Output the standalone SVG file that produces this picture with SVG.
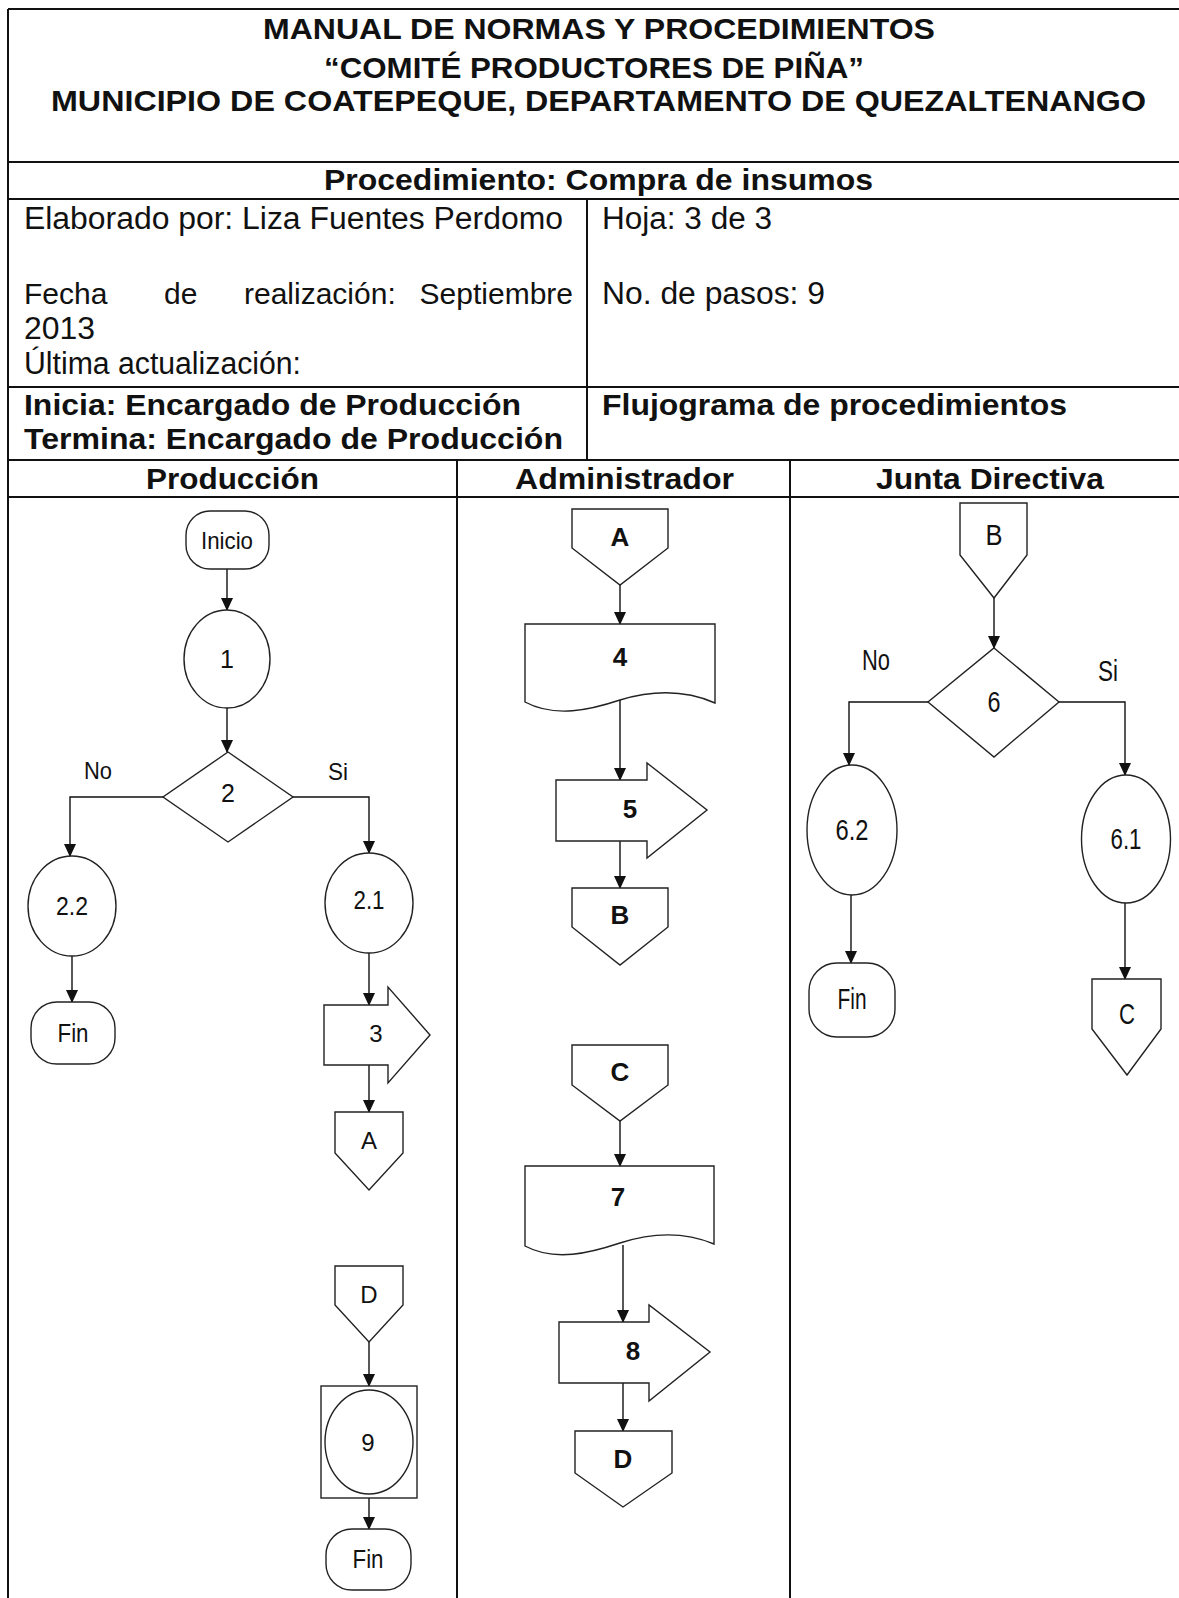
<svg xmlns="http://www.w3.org/2000/svg" width="1179" height="1598" viewBox="0 0 1179 1598">
<style>
.t{font-family:"Liberation Sans",Arial,sans-serif;fill:#111}
.b{font-weight:bold}
.tl{stroke:#111;stroke-width:2;fill:none}
.s{stroke:#222;stroke-width:1.4;fill:#fff}
.c{stroke:#111;stroke-width:1.4;fill:none;marker-end:url(#ah)}
.lb{font-family:"Liberation Sans",Arial,sans-serif;fill:#111;text-anchor:middle;dominant-baseline:central}
</style>
<defs>
<marker id="ah" markerWidth="13" markerHeight="12" refX="12" refY="6" orient="auto" markerUnits="userSpaceOnUse">
<path d="M0,0 L13,6 L0,12 Z" fill="#111"/>
</marker>
</defs>
<rect width="1179" height="1598" fill="#fff"/>

<g id="table">
<line class="tl" x1="8" y1="9" x2="1179" y2="9"/>
<line class="tl" x1="8" y1="9" x2="8" y2="1598"/>
<line class="tl" x1="8" y1="162" x2="1179" y2="162"/>
<line class="tl" x1="8" y1="199" x2="1179" y2="199"/>
<line class="tl" x1="8" y1="387" x2="1179" y2="387"/>
<line class="tl" x1="8" y1="460" x2="1179" y2="460"/>
<line class="tl" x1="8" y1="497" x2="1179" y2="497"/>
<line class="tl" x1="587" y1="199" x2="587" y2="460"/>
<line class="tl" x1="457" y1="460" x2="457" y2="1598"/>
<line class="tl" x1="790" y1="460" x2="790" y2="1598"/>

<text class="t b" x="263" y="39" font-size="30" textLength="672" lengthAdjust="spacingAndGlyphs">MANUAL DE NORMAS Y PROCEDIMIENTOS</text>
<text class="t b" x="324" y="78" font-size="30" textLength="540" lengthAdjust="spacingAndGlyphs">“COMITÉ PRODUCTORES DE PIÑA”</text>
<text class="t b" x="51" y="111" font-size="30" textLength="1095" lengthAdjust="spacingAndGlyphs">MUNICIPIO DE COATEPEQUE, DEPARTAMENTO DE QUEZALTENANGO</text>
<text class="t b" x="324" y="190" font-size="30" textLength="549" lengthAdjust="spacingAndGlyphs">Procedimiento: Compra de insumos</text>
<text class="t" x="24" y="229" font-size="31" textLength="539" lengthAdjust="spacingAndGlyphs">Elaborado por: Liza Fuentes Perdomo</text>
<text class="t" x="602" y="229" font-size="31" textLength="170" lengthAdjust="spacingAndGlyphs">Hoja: 3 de 3</text>
<text class="t" x="24" y="304" font-size="30">Fecha</text>
<text class="t" x="164" y="304" font-size="30">de</text>
<text class="t" x="244" y="304" font-size="30">realización:</text>
<text class="t" x="573" y="304" font-size="30" text-anchor="end">Septiembre</text>
<text class="t" x="602" y="304" font-size="31" textLength="223" lengthAdjust="spacingAndGlyphs">No. de pasos: 9</text>
<text class="t" x="24" y="339" font-size="31" textLength="71" lengthAdjust="spacingAndGlyphs">2013</text>
<text class="t" x="24" y="374" font-size="31" textLength="277" lengthAdjust="spacingAndGlyphs">Última actualización:</text>
<text class="t b" x="24" y="415" font-size="30" textLength="497" lengthAdjust="spacingAndGlyphs">Inicia: Encargado de Producción</text>
<text class="t b" x="602" y="415" font-size="30" textLength="465" lengthAdjust="spacingAndGlyphs">Flujograma de procedimientos</text>
<text class="t b" x="24" y="449" font-size="30" textLength="539" lengthAdjust="spacingAndGlyphs">Termina: Encargado de Producción</text>
<text class="t b" x="146" y="489" font-size="30" textLength="173" lengthAdjust="spacingAndGlyphs">Producción</text>
<text class="t b" x="515" y="489" font-size="30" textLength="219" lengthAdjust="spacingAndGlyphs">Administrador</text>
<text class="t b" x="876" y="489" font-size="30" textLength="228" lengthAdjust="spacingAndGlyphs">Junta Directiva</text>
</g>

<g id="connectors">
<line class="c" x1="227" y1="569" x2="227" y2="610"/>
<line class="c" x1="227" y1="708" x2="227" y2="752"/>
<polyline class="c" points="163,797 70,797 70,856"/>
<polyline class="c" points="293,797 369,797 369,853"/>
<line class="c" x1="72" y1="956" x2="72" y2="1002"/>
<line class="c" x1="369" y1="953" x2="369" y2="1005"/>
<line class="c" x1="369" y1="1065" x2="369" y2="1112"/>
<line class="c" x1="369" y1="1342" x2="369" y2="1386"/>
<line class="c" x1="369" y1="1498" x2="369" y2="1529"/>
<line class="c" x1="620" y1="585" x2="620" y2="624"/>
<line class="c" x1="620" y1="700" x2="620" y2="780"/>
<line class="c" x1="620" y1="841" x2="620" y2="888"/>
<line class="c" x1="620" y1="1121" x2="620" y2="1166"/>
<line class="c" x1="623" y1="1245" x2="623" y2="1322"/>
<line class="c" x1="623" y1="1383" x2="623" y2="1431"/>
<line class="c" x1="994" y1="598" x2="994" y2="648"/>
<polyline class="c" points="928,702 849,702 849,765"/>
<polyline class="c" points="1059,702 1125,702 1125,775"/>
<line class="c" x1="851" y1="895" x2="851" y2="963"/>
<line class="c" x1="1125" y1="903" x2="1125" y2="979"/>
</g>

<g id="n-inicio"><rect class="s" x="186" y="511" width="83" height="58" rx="24"/><text class="lb" x="227" y="540" font-size="24" textLength="52" lengthAdjust="spacingAndGlyphs">Inicio</text></g>
<g id="n-1"><ellipse class="s" cx="227" cy="659" rx="43" ry="49"/><text class="lb" x="227" y="659" font-size="25">1</text></g>
<g id="n-2"><polygon class="s" points="228,752 293,797 228,842 163,797"/><text class="lb" x="228" y="793" font-size="25">2</text></g>
<text class="lb" x="98" y="770" font-size="24" textLength="28" lengthAdjust="spacingAndGlyphs">No</text>
<text class="lb" x="338" y="771" font-size="24" textLength="20" lengthAdjust="spacingAndGlyphs">Si</text>
<g id="n-2-2"><ellipse class="s" cx="72" cy="906" rx="44" ry="50"/><text class="lb" x="72" y="906" font-size="25" textLength="32" lengthAdjust="spacingAndGlyphs">2.2</text></g>
<g id="n-2-1"><ellipse class="s" cx="369" cy="903" rx="44" ry="50"/><text class="lb" x="369" y="900" font-size="25" textLength="31" lengthAdjust="spacingAndGlyphs">2.1</text></g>
<g id="n-fin1"><rect class="s" x="31" y="1002" width="84" height="62" rx="26"/><text class="lb" x="73" y="1033" font-size="25" textLength="31" lengthAdjust="spacingAndGlyphs">Fin</text></g>
<g id="n-3"><path class="s" d="M324,1005 H388 V987 L430,1035 L388,1083 V1065 H324 Z"/><text class="lb" x="376" y="1033" font-size="24">3</text></g>
<g id="n-A1"><path class="s" d="M335,1112 H403 V1153 L369,1190 L335,1153 Z"/><text class="lb" x="369" y="1140" font-size="24">A</text></g>
<g id="n-D2"><path class="s" d="M335,1266 H403 V1305 L369,1342 L335,1305 Z"/><text class="lb" x="369" y="1294" font-size="24">D</text></g>
<g id="n-9"><rect class="s" x="321" y="1386" width="96" height="112"/><ellipse class="s" cx="369" cy="1442" rx="44" ry="52"/><text class="lb" x="368" y="1442" font-size="24">9</text></g>
<g id="n-fin2"><rect class="s" x="326" y="1529" width="85" height="61" rx="26"/><text class="lb" x="368" y="1559" font-size="25" textLength="31" lengthAdjust="spacingAndGlyphs">Fin</text></g>

<g id="n-A2"><path class="s" d="M572,509 H668 V548 L620,585 L572,548 Z"/><text class="lb b" x="620" y="537" font-size="26">A</text></g>
<g id="n-4"><path class="s" d="M525,624 H715 V703 C690,692 660,688 620,700 C590,710 555,718 525,702 Z"/><text class="lb b" x="620" y="657" font-size="26">4</text></g>
<g id="n-5"><path class="s" d="M556,780 H647 V763 L707,810 L647,858 V841 H556 Z"/><text class="lb b" x="630" y="809" font-size="26">5</text></g>
<g id="n-B1"><path class="s" d="M572,888 H668 V927 L620,965 L572,927 Z"/><text class="lb b" x="620" y="915" font-size="26">B</text></g>
<g id="n-C2"><path class="s" d="M572,1045 H668 V1085 L620,1121 L572,1085 Z"/><text class="lb b" x="620" y="1072" font-size="26">C</text></g>
<g id="n-7"><path class="s" d="M525,1166 H714 V1244 C690,1234 660,1230 620,1243 C590,1253 555,1262 525,1246 Z"/><text class="lb b" x="618" y="1197" font-size="26">7</text></g>
<g id="n-8"><path class="s" d="M559,1322 H649 V1305 L710,1352 L649,1401 V1383 H559 Z"/><text class="lb b" x="633" y="1351" font-size="26">8</text></g>
<g id="n-D1"><path class="s" d="M575,1431 H672 V1473 L623,1507 L575,1473 Z"/><text class="lb b" x="623" y="1459" font-size="26">D</text></g>

<g id="n-B2"><path class="s" d="M960,503 H1027 V555 L994,598 L960,555 Z"/><text class="lb" x="994" y="535" font-size="29" textLength="17" lengthAdjust="spacingAndGlyphs">B</text></g>
<g id="n-6"><polygon class="s" points="994,648 1059,702 994,757 928,702"/><text class="lb" x="994" y="702" font-size="29" textLength="13" lengthAdjust="spacingAndGlyphs">6</text></g>
<text class="lb" x="876" y="660" font-size="29" textLength="28" lengthAdjust="spacingAndGlyphs">No</text>
<text class="lb" x="1108" y="671" font-size="29" textLength="20" lengthAdjust="spacingAndGlyphs">Si</text>
<g id="n-6-2"><ellipse class="s" cx="852" cy="830" rx="45" ry="65"/><text class="lb" x="852" y="830" font-size="29" textLength="33" lengthAdjust="spacingAndGlyphs">6.2</text></g>
<g id="n-6-1"><ellipse class="s" cx="1126" cy="839" rx="44.5" ry="64"/><text class="lb" x="1126" y="839" font-size="29" textLength="31" lengthAdjust="spacingAndGlyphs">6.1</text></g>
<g id="n-fin3"><rect class="s" x="809" y="963" width="86" height="74" rx="28"/><text class="lb" x="852" y="999" font-size="29" textLength="29" lengthAdjust="spacingAndGlyphs">Fin</text></g>
<g id="n-C1"><path class="s" d="M1092,979 H1161 V1029 L1127,1075 L1092,1029 Z"/><text class="lb" x="1127" y="1014" font-size="29" textLength="16" lengthAdjust="spacingAndGlyphs">C</text></g>
</svg>
